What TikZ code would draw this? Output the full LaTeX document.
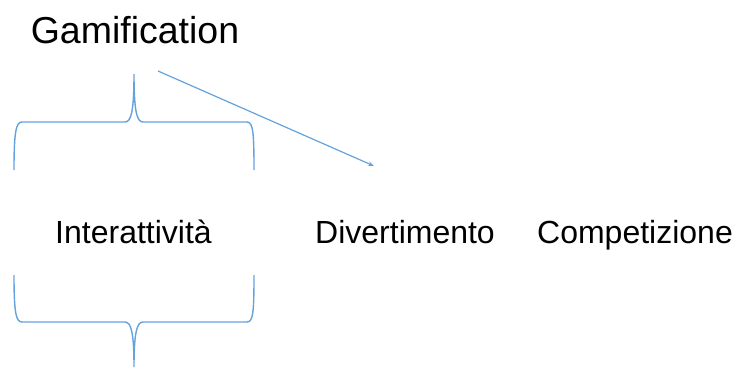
\documentclass[tikz,border=0pt]{standalone}
\usepackage{fontspec}
\setmainfont{Liberation Sans}
\usetikzlibrary{arrows.meta}
\definecolor{lineblue}{RGB}{100,162,222}
\begin{document}
\begin{tikzpicture}[x=1pt,y=-1pt,
  lbl/.style={anchor=base,inner sep=0pt,font=\fontsize{32}{38}\selectfont},
  ttl/.style={anchor=base,inner sep=0pt,font=\fontsize{37.5}{44}\selectfont},
  brace/.style={draw=lineblue,line width=1.4pt},
  conn/.style={draw=lineblue,line width=1.2pt,-{Stealth[length=6pt,width=4.5pt]}}]
\useasboundingbox (0,0) rectangle (746,367);
\node[ttl] (gam) at (135,43) {Gamification};
\node[lbl] (int) at (133.5,243) {Interattività};
\node[lbl] (div) at (405,243) {Divertimento};
\node[lbl] (com) at (635,243) {Competizione};
\coordinate (a1) at (158,71);
\coordinate (a2) at (374,166);
% top brace
\draw[brace] (14,170) .. controls (14,132) and (16,122) .. (22,122) -- (125,122)
  .. controls (131,122) and (134,112) .. (134,74)
  .. controls (134,112) and (137,122) .. (143,122) -- (247,122)
  .. controls (253,122) and (254,132) .. (254,170);
% bottom brace
\draw[brace] (14,275) .. controls (14,313) and (16,322) .. (22,322) -- (125,322)
  .. controls (131,322) and (134,332) .. (134,367)
  .. controls (134,332) and (137,322) .. (143,322) -- (247,322)
  .. controls (253,322) and (254,313) .. (254,275);
\draw[conn] (a1) -- (a2);
\end{tikzpicture}
\end{document}
